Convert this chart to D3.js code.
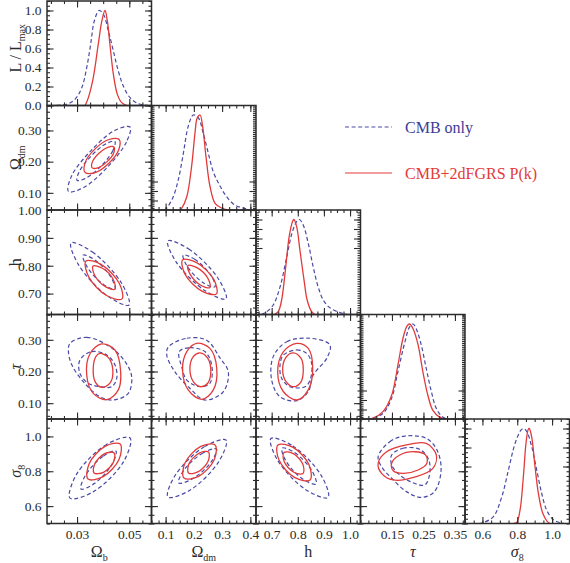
<!DOCTYPE html>
<html>
<head>
<meta charset="utf-8">
<script src="https://cdn.jsdelivr.net/npm/d3@7"></script>
<style>
  body { margin: 0; background: #fff; }
  svg text { font-family: "Liberation Serif", "Times New Roman", serif; }
</style>
</head>
<body>
<svg id="chart" width="570" height="563"></svg>
<script>
// parameters, in the order of the columns / rows
const xDomains = [[0.0185, 0.0585], [0.05, 0.42], [0.64, 1.04], [0.05, 0.382], [0.5, 1.1]];
const yDomains = [[0, 1.1], [0.045, 0.38], [0.625, 1.0], [0.05, 0.38], [0.5, 1.1]];
const xTickLabels = [['0.03', '0.05'], ['0.1', '0.2', '0.3', '0.4'], ['0.7', '0.8', '0.9', '1.0'], ['0.15', '0.25', '0.35'], ['0.6', '0.8', '1.0']];
const yTickLabels = [['0.0', '0.2', '0.4', '0.6', '0.8', '1.0'], ['0.10', '0.20', '0.30'], ['0.70', '0.80', '0.90', '1.00'], ['0.10', '0.20', '0.30'], ['0.6', '0.8', '1.0']];
const xMinorSteps = [0.005, 0.025, 0.025, 0.025, 0.05];
const yMinorSteps = [0.05, 0.02, 0.025, 0.02, 0.05];

const seriesNames = ['CMB only', 'CMB+2dFGRS P(k)'];

// 1D marginal likelihoods [value, L/Lmax]
const ob1dCmb = [[0.0196, 0], [0.0260, 0.013], [0.0292, 0.065], [0.0318, 0.187], [0.0337, 0.398], [0.0352, 0.644], [0.0366, 0.889], [0.0384, 1.0], [0.0401, 0.96], [0.0420, 0.784], [0.0439, 0.574], [0.0458, 0.363], [0.0477, 0.205], [0.0503, 0.082], [0.0535, 0.019], [0.0573, 0]];
const ob1dAll = [[0.0331, 0], [0.0343, 0.08], [0.0362, 0.29], [0.0381, 0.64], [0.0395, 0.89], [0.0407, 1.0], [0.0416, 0.89], [0.0426, 0.64], [0.0439, 0.33], [0.0454, 0.12], [0.0471, 0.03], [0.0490, 0]];
const odm1dCmb = [[0.095, 0], [0.104, 0.02], [0.127, 0.14], [0.145, 0.32], [0.163, 0.6], [0.180, 0.88], [0.198, 1.0], [0.216, 0.97], [0.233, 0.81], [0.251, 0.6], [0.269, 0.40], [0.293, 0.25], [0.316, 0.14], [0.346, 0.05], [0.375, 0.02], [0.40, 0]];
const odm1dAll = [[0.150, 0], [0.157, 0.02], [0.175, 0.14], [0.192, 0.46], [0.204, 0.81], [0.212, 0.97], [0.222, 1.0], [0.231, 0.88], [0.243, 0.56], [0.257, 0.25], [0.275, 0.07], [0.299, 0.02], [0.32, 0]];
const h1dCmb = [[0.66, 0], [0.681, 0.03], [0.706, 0.10], [0.732, 0.29], [0.758, 0.61], [0.777, 0.85], [0.796, 0.98], [0.806, 1.0], [0.821, 0.94], [0.840, 0.75], [0.859, 0.50], [0.878, 0.29], [0.898, 0.15], [0.923, 0.07], [0.962, 0.02], [0.99, 0]];
const h1dAll = [[0.71, 0], [0.725, 0.03], [0.738, 0.15], [0.751, 0.43], [0.767, 0.82], [0.780, 0.98], [0.785, 1.0], [0.796, 0.92], [0.808, 0.68], [0.824, 0.36], [0.836, 0.15], [0.853, 0.03], [0.865, 0]];
const tau1dCmb = [[0.07, 0], [0.090, 0.01], [0.122, 0.06], [0.149, 0.22], [0.169, 0.50], [0.191, 0.81], [0.206, 0.97], [0.217, 1.0], [0.227, 0.95], [0.243, 0.78], [0.259, 0.53], [0.275, 0.29], [0.291, 0.11], [0.311, 0.02], [0.33, 0]];
const tau1dAll = [[0.07, 0], [0.090, 0.01], [0.122, 0.08], [0.149, 0.25], [0.169, 0.57], [0.185, 0.85], [0.198, 0.98], [0.206, 1.0], [0.217, 0.95], [0.233, 0.78], [0.248, 0.50], [0.264, 0.25], [0.280, 0.09], [0.301, 0.02], [0.32, 0]];
const s81dCmb = [[0.58, 0], [0.605, 0.01], [0.662, 0.07], [0.711, 0.28], [0.749, 0.56], [0.787, 0.84], [0.820, 0.98], [0.835, 1.0], [0.854, 0.97], [0.883, 0.81], [0.912, 0.56], [0.940, 0.32], [0.969, 0.14], [1.007, 0.04], [1.045, 0.01], [1.07, 0]];
const s81dAll = [[0.78, 0], [0.797, 0.01], [0.816, 0.14], [0.835, 0.49], [0.850, 0.84], [0.863, 0.99], [0.869, 1.0], [0.883, 0.91], [0.902, 0.60], [0.921, 0.32], [0.946, 0.11], [0.973, 0.02], [0.99, 0]];

// 2D confidence contours [outer, inner], points [x, y]
const obOdmCmb = [
  [[0.0503, 0.311], [0.0489, 0.263], [0.0417, 0.183], [0.0325, 0.117], [0.0267, 0.104], [0.0279, 0.154], [0.0352, 0.234], [0.0444, 0.300]],
  [[0.0445, 0.265], [0.0437, 0.235], [0.0392, 0.186], [0.0336, 0.148], [0.0300, 0.140], [0.0309, 0.169], [0.0354, 0.218], [0.0410, 0.257]]];
const obOdmAll = [
  [[0.0461, 0.271], [0.0460, 0.239], [0.0422, 0.195], [0.0369, 0.165], [0.0331, 0.165], [0.0331, 0.197], [0.0369, 0.241], [0.0422, 0.271]],
  [[0.0441, 0.247], [0.0440, 0.227], [0.0415, 0.200], [0.0382, 0.181], [0.0358, 0.180], [0.0359, 0.200], [0.0384, 0.227], [0.0418, 0.246]]];
const obHCmb = [
  [[0.0277, 0.882], [0.0359, 0.849], [0.0470, 0.738], [0.0499, 0.659], [0.0417, 0.691], [0.0306, 0.803]],
  [[0.0323, 0.838], [0.0368, 0.821], [0.0429, 0.760], [0.0445, 0.716], [0.0400, 0.734], [0.0339, 0.795]]];
const obHAll = [
  [[0.0334, 0.817], [0.0393, 0.804], [0.0462, 0.736], [0.0472, 0.681], [0.0413, 0.693], [0.0344, 0.761]],
  [[0.0361, 0.799], [0.0397, 0.791], [0.0439, 0.750], [0.0445, 0.716], [0.0410, 0.724], [0.0368, 0.765]]];
const odmHCmb = [
  [[0.108, 0.889], [0.182, 0.860], [0.285, 0.756], [0.314, 0.681], [0.240, 0.710], [0.137, 0.814]],
  [[0.162, 0.838], [0.203, 0.823], [0.260, 0.766], [0.275, 0.724], [0.233, 0.739], [0.177, 0.797]]];
const odmHAll = [
  [[0.160, 0.821], [0.210, 0.811], [0.271, 0.750], [0.280, 0.699], [0.230, 0.708], [0.169, 0.769]],
  [[0.179, 0.801], [0.211, 0.793], [0.250, 0.754], [0.257, 0.722], [0.226, 0.729], [0.187, 0.769]]];
const obTauCmb = [
  [[0.0273, 0.289], [0.0337, 0.308], [0.0426, 0.278], [0.0484, 0.231], [0.0509, 0.184], [0.0496, 0.131], [0.0439, 0.110], [0.0388, 0.120], [0.0324, 0.168], [0.0280, 0.221], [0.0267, 0.263]],
  [[0.0311, 0.236], [0.0356, 0.263], [0.0414, 0.252], [0.0445, 0.221], [0.0452, 0.179], [0.0433, 0.152], [0.0388, 0.152], [0.0343, 0.163], [0.0311, 0.194]]];
const obTauAll = [
  [[0.0394, 0.287], [0.0445, 0.268], [0.0467, 0.199], [0.0458, 0.142], [0.0414, 0.111], [0.0362, 0.131], [0.0337, 0.189], [0.0350, 0.257]],
  [[0.0388, 0.257], [0.0420, 0.244], [0.0437, 0.205], [0.0426, 0.163], [0.0394, 0.150], [0.0369, 0.168], [0.0362, 0.210], [0.0372, 0.247]]];
const odmTauCmb = [
  [[0.110, 0.278], [0.175, 0.305], [0.245, 0.299], [0.293, 0.242], [0.322, 0.199], [0.304, 0.136], [0.239, 0.110], [0.186, 0.147], [0.133, 0.199], [0.104, 0.252]],
  [[0.148, 0.263], [0.186, 0.275], [0.239, 0.263], [0.263, 0.221], [0.257, 0.163], [0.222, 0.152], [0.175, 0.173], [0.157, 0.215]]];
const odmTauAll = [
  [[0.210, 0.289], [0.257, 0.273], [0.281, 0.210], [0.269, 0.142], [0.228, 0.112], [0.180, 0.142], [0.160, 0.205], [0.175, 0.263]],
  [[0.222, 0.259], [0.249, 0.242], [0.260, 0.199], [0.249, 0.163], [0.225, 0.152], [0.198, 0.168], [0.186, 0.210], [0.198, 0.247]]];
const hTauCmb = [
  [[0.706, 0.247], [0.758, 0.294], [0.847, 0.305], [0.923, 0.284], [0.911, 0.242], [0.859, 0.189], [0.840, 0.136], [0.796, 0.108], [0.732, 0.120], [0.700, 0.173]],
  [[0.745, 0.252], [0.796, 0.268], [0.834, 0.257], [0.853, 0.226], [0.847, 0.173], [0.828, 0.152], [0.770, 0.152], [0.738, 0.179], [0.732, 0.221]]];
const hTauAll = [
  [[0.796, 0.289], [0.840, 0.273], [0.857, 0.210], [0.840, 0.142], [0.796, 0.110], [0.745, 0.136], [0.723, 0.199], [0.745, 0.263]],
  [[0.783, 0.259], [0.812, 0.242], [0.821, 0.205], [0.811, 0.166], [0.783, 0.152], [0.755, 0.168], [0.742, 0.205], [0.754, 0.244]]];
const obS8Cmb = [
  [[0.0503, 0.991], [0.0413, 0.954], [0.0298, 0.782], [0.0273, 0.646], [0.0363, 0.683], [0.0478, 0.855]],
  [[0.0449, 0.916], [0.0399, 0.885], [0.0332, 0.776], [0.0315, 0.698], [0.0366, 0.729], [0.0433, 0.838]]];
const obS8All = [
  [[0.0465, 0.956], [0.0407, 0.943], [0.0346, 0.842], [0.0342, 0.755], [0.0400, 0.769], [0.0461, 0.869]],
  [[0.0442, 0.905], [0.0406, 0.901], [0.0368, 0.843], [0.0365, 0.790], [0.0401, 0.794], [0.0439, 0.851]]];
const odmS8Cmb = [
  [[0.314, 0.979], [0.237, 0.941], [0.134, 0.777], [0.108, 0.652], [0.186, 0.691], [0.288, 0.855]],
  [[0.280, 0.928], [0.232, 0.905], [0.165, 0.807], [0.146, 0.733], [0.194, 0.755], [0.261, 0.853]]];
const odmS8All = [
  [[0.275, 0.951], [0.223, 0.941], [0.168, 0.846], [0.165, 0.761], [0.217, 0.771], [0.272, 0.866]],
  [[0.252, 0.911], [0.219, 0.904], [0.183, 0.844], [0.181, 0.790], [0.214, 0.796], [0.250, 0.856]]];
const hS8Cmb = [
  [[0.697, 0.988], [0.781, 0.945], [0.890, 0.775], [0.916, 0.649], [0.832, 0.693], [0.723, 0.862]],
  [[0.740, 0.933], [0.789, 0.906], [0.854, 0.803], [0.870, 0.727], [0.820, 0.754], [0.755, 0.858]]];
const hS8All = [
  [[0.724, 0.951], [0.782, 0.937], [0.843, 0.837], [0.847, 0.750], [0.789, 0.763], [0.728, 0.864]],
  [[0.747, 0.908], [0.783, 0.901], [0.819, 0.841], [0.820, 0.787], [0.785, 0.794], [0.748, 0.854]]];
const tauS8Cmb = [
  [[0.106, 0.884], [0.143, 0.970], [0.191, 1.002], [0.259, 0.989], [0.293, 0.922], [0.306, 0.807], [0.285, 0.683], [0.243, 0.650], [0.196, 0.683], [0.149, 0.760], [0.117, 0.826]],
  [[0.149, 0.893], [0.185, 0.932], [0.238, 0.926], [0.267, 0.865], [0.269, 0.778], [0.254, 0.721], [0.217, 0.734], [0.175, 0.778], [0.149, 0.836]]];
const tauS8All = [
  [[0.106, 0.846], [0.133, 0.912], [0.196, 0.951], [0.259, 0.960], [0.291, 0.893], [0.280, 0.817], [0.227, 0.769], [0.154, 0.750], [0.117, 0.788]],
  [[0.149, 0.846], [0.175, 0.893], [0.222, 0.912], [0.257, 0.893], [0.261, 0.846], [0.233, 0.807], [0.185, 0.788], [0.154, 0.803]]];

// ---- layout & style ----
const LEFT = 47, TOP = 1, SIZE = 104.5;
const AXIS_COLOR = '#2b2b2b';
const CMB_COLOR = '#4a4aa6', ALL_COLOR = '#e23a3a';
const CMB_DASH = '4,2.6';
const FONT = '"Liberation Serif", "Times New Roman", serif';

const like1D = [[ob1dCmb, ob1dAll], [odm1dCmb, odm1dAll], [h1dCmb, h1dAll], [tau1dCmb, tau1dAll], [s81dCmb, s81dAll]];
// keyed "row,col"
const contours = {
  '1,0': [obOdmCmb, obOdmAll],
  '2,0': [obHCmb, obHAll], '2,1': [odmHCmb, odmHAll],
  '3,0': [obTauCmb, obTauAll], '3,1': [odmTauCmb, odmTauAll], '3,2': [hTauCmb, hTauAll],
  '4,0': [obS8Cmb, obS8All], '4,1': [odmS8Cmb, odmS8All], '4,2': [hS8Cmb, hS8All], '4,3': [tauS8Cmb, tauS8All]
};

const xTitles = [['Ω', 'b', false], ['Ω', 'dm', false], ['h', '', false], ['τ', '', true], ['σ', '8', true]];
const yTitles = [['L / L', 'max', false], ['Ω', 'dm', false], ['h', '', false], ['τ', '', true], ['σ', '8', true]];

const svg = d3.select('#chart');
const xScales = xDomains.map((d, j) => d3.scaleLinear().domain(d).range([LEFT + j * SIZE, LEFT + (j + 1) * SIZE]));
const rowScale = (i, dom) => d3.scaleLinear().domain(dom).range([TOP + (i + 1) * SIZE, TOP + i * SIZE]);
const yScales = yDomains.map((d, i) => rowScale(i, d));

function minorValues(dom, step) {
  const start = Math.ceil(dom[0] / step - 1e-6) * step;
  return d3.range(start, dom[1] + 1e-9, step).map(v => +v.toFixed(5));
}

function tickGroup(scale, axisFn, values, size, tx, ty, labels) {
  const axis = axisFn(scale).tickValues(values).tickSize(-size).tickPadding(5.5)
    .tickFormat(labels ? (d, k) => labels[k] : '');
  const g = svg.append('g').attr('transform', `translate(${tx},${ty})`).call(axis);
  g.select('.domain').remove();
  g.attr('font-family', FONT).attr('font-size', 13.5).attr('color', AXIS_COLOR);
  g.selectAll('.tick line').attr('stroke-width', 1.1);
  return g;
}

const defs = svg.append('defs');

for (let i = 0; i < 5; i++) {
  for (let j = 0; j <= i; j++) {
    const x = xScales[j];
    const y = i === j ? rowScale(i, [0, 1.1]) : yScales[i];
    const x0 = x.range()[0], x1 = x.range()[1];
    const y0 = y.range()[1], y1 = y.range()[0];
    const clipId = `clip-${i}-${j}`;
    defs.append('clipPath').attr('id', clipId)
      .append('rect').attr('x', x0).attr('y', y0).attr('width', x1 - x0).attr('height', y1 - y0);
    const body = svg.append('g').attr('clip-path', `url(#${clipId})`);

    if (i === j) {
      const line = d3.line().x(d => x(d[0])).y(d => y(d[1])).curve(d3.curveCatmullRom.alpha(0.5));
      const [cmb, all] = like1D[i];
      body.append('path').attr('d', line(cmb)).attr('fill', 'none')
        .attr('stroke', CMB_COLOR).attr('stroke-width', 1.2).attr('stroke-dasharray', CMB_DASH);
      body.append('path').attr('d', line(all)).attr('fill', 'none')
        .attr('stroke', ALL_COLOR).attr('stroke-width', 1.3);
    } else {
      const line = d3.line().x(d => x(d[0])).y(d => y(d[1])).curve(d3.curveCatmullRomClosed.alpha(0.5));
      const [cmb, all] = contours[`${i},${j}`];
      cmb.forEach(c => body.append('path').attr('d', line(c)).attr('fill', 'none')
        .attr('stroke', CMB_COLOR).attr('stroke-width', 1.2).attr('stroke-dasharray', CMB_DASH));
      all.forEach(c => body.append('path').attr('d', line(c)).attr('fill', 'none')
        .attr('stroke', ALL_COLOR).attr('stroke-width', 1.3));
    }

    // ticks on all four sides, pointing inwards
    const xMaj = xTickLabels[j].map(Number);
    const yMaj = yTickLabels[i].map(Number);
    const xMin = minorValues(x.domain(), xMinorSteps[j]);
    const yMin = minorValues(y.domain(), yMinorSteps[i]);
    tickGroup(x, d3.axisBottom, xMin, 3, 0, y1);
    tickGroup(x, d3.axisBottom, xMaj, 6.5, 0, y1, i === 4 ? xTickLabels[j] : null);
    tickGroup(x, d3.axisTop, xMin, 3, 0, y0);
    tickGroup(x, d3.axisTop, xMaj, 6.5, 0, y0);
    tickGroup(y, d3.axisLeft, yMin, 3, x0, 0);
    tickGroup(y, d3.axisLeft, yMaj, 6.5, x0, 0, j === 0 ? yTickLabels[i] : null);
    tickGroup(y, d3.axisRight, yMin, 3, x1, 0);
    tickGroup(y, d3.axisRight, yMaj, 6.5, x1, 0);

    svg.append('rect').attr('x', x0).attr('y', y0).attr('width', x1 - x0).attr('height', y1 - y0)
      .attr('fill', 'none').attr('stroke', AXIS_COLOR).attr('stroke-width', 1.5);
  }
}

// axis titles
function addTitle(g, t) {
  const txt = g.append('text').attr('fill', AXIS_COLOR).attr('font-family', FONT)
    .attr('font-size', 16).attr('text-anchor', 'middle');
  txt.append('tspan').text(t[0]).attr('font-style', t[2] ? 'italic' : 'normal');
  if (t[1]) txt.append('tspan').text(t[1]).attr('font-size', 10).attr('dy', 4);
}
xTitles.forEach((t, j) => {
  const cx = d3.mean(xScales[j].range());
  addTitle(svg.append('g').attr('transform', `translate(${cx},557)`), t);
});
yTitles.forEach((t, i) => {
  const cy = d3.mean(yScales[i].range()) - (i === 0 ? 5 : 0);
  addTitle(svg.append('g').attr('transform', `translate(21,${cy}) rotate(-90)`), t);
});

// legend
const legend = svg.append('g').attr('transform', 'translate(345,127)');
seriesNames.forEach((name, k) => {
  const g = legend.append('g').attr('transform', `translate(0,${k * 46})`);
  g.append('line').attr('x1', 0).attr('x2', 47).attr('y1', 0).attr('y2', 0)
    .attr('stroke', k === 0 ? CMB_COLOR : ALL_COLOR).attr('stroke-width', 1.2)
    .attr('stroke-dasharray', k === 0 ? CMB_DASH : null);
  g.append('text').attr('x', 60).attr('y', 5.5).attr('font-family', FONT).attr('font-size', 16)
    .attr('fill', k === 0 ? '#3c3c96' : ALL_COLOR).text(name);
});
</script>
</body>
</html>
